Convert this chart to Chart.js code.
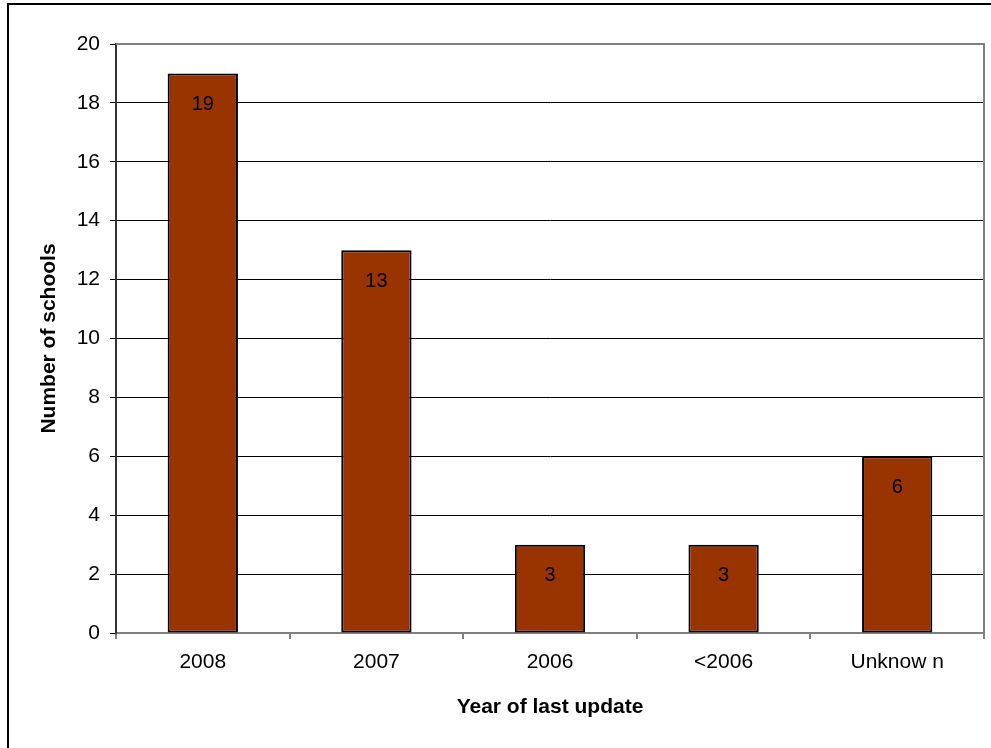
<!DOCTYPE html>
<html>
<head>
<meta charset="utf-8">
<script src="https://cdn.jsdelivr.net/npm/chart.js@4.4.0/dist/chart.umd.min.js"></script>
<style>
  html, body { margin: 0; padding: 0; background: #fff; }
  #wrap { position: relative; width: 991px; height: 748px; overflow: hidden; }
  #frame { position: absolute; left: 7px; top: 3px; width: 1200px; height: 1000px;
           border-left: 2px solid #000; border-top: 2px solid #000; pointer-events: none; }
  canvas { position: absolute; left: 0; top: 0; }
</style>
</head>
<body>
<div id="wrap">
  <canvas id="schools-chart" width="991" height="748"></canvas>
  <div id="frame"></div>
</div>
<script>
'use strict';

const categories = ['2008', '2007', '2006', '<2006', 'Unknow n'];
const schoolCounts = [19, 13, 3, 3, 6];
const yTicks = [0, 2, 4, 6, 8, 10, 12, 14, 16, 18, 20];

const FONT = "'Liberation Sans', Arial, sans-serif";

// value labels just inside the top of each bar, like Excel does
const barLabels = {
    id: 'barLabels',
    afterDatasetsDraw(chart) {
        const ctx = chart.ctx;
        const meta = chart.getDatasetMeta(0);
        ctx.save();
        ctx.fillStyle = '#000';
        ctx.font = '20px ' + FONT;
        ctx.textAlign = 'center';
        ctx.textBaseline = 'middle';
        meta.data.forEach((bar, i) => {
            ctx.fillText(String(schoolCounts[i]), bar.x, bar.y + 31);
        });
        ctx.restore();
    }
};

// grey border round the plot area
const plotBorder = {
    id: 'plotBorder',
    afterDraw(chart) {
        const {ctx, chartArea} = chart;
        ctx.save();
        ctx.strokeStyle = '#808080';
        ctx.lineWidth = 2;
        ctx.beginPath();
        ctx.moveTo(chartArea.left, chartArea.top);
        ctx.lineTo(chartArea.right, chartArea.top);
        ctx.lineTo(chartArea.right, chartArea.bottom);
        ctx.stroke();
        ctx.restore();
    }
};

const ctx = document.getElementById('schools-chart').getContext('2d');
const schoolsChart = new Chart(ctx, {
    type: 'bar',
    data: {
        labels: categories,
        datasets: [{
            data: schoolCounts,
            backgroundColor: '#993300',
            borderColor: '#000',
            borderWidth: 2,
            borderSkipped: false,
            barPercentage: 0.81,
            categoryPercentage: 0.5
        }]
    },
    options: {
        responsive: false,
        animation: false,
        devicePixelRatio: 1,
        layout: { padding: { top: 44, right: 7, left: 0, bottom: 0 } },
        plugins: {
            legend: { display: false },
            tooltip: { enabled: false }
        },
        scales: {
            x: {
                afterFit: s => { s.height = 115; },
                grid: {
                    offset: true,
                    drawOnChartArea: false,
                    drawTicks: true,
                    tickLength: 6,
                    color: '#808080',
                    lineWidth: 2
                },
                border: { display: true, color: '#808080', width: 2 },
                ticks: {
                    color: '#000',
                    font: { family: FONT, size: 21 },
                    padding: 11,
                    maxRotation: 0
                },
                title: {
                    display: true,
                    text: 'Year of last update',
                    color: '#000',
                    font: { family: FONT, size: 21, weight: 'bold' },
                    padding: { top: 0, bottom: 28 }
                }
            },
            y: {
                min: 0,
                max: 20,
                afterFit: s => { s.width = 116; },
                afterBuildTicks: s => { s.ticks = yTicks.map(v => ({ value: v })); },
                grid: {
                    color: '#000',
                    lineWidth: 1,
                    drawTicks: true,
                    tickLength: 6
                },
                border: { display: true, color: '#333', width: 2 },
                ticks: {
                    color: '#000',
                    font: { family: FONT, size: 21 },
                    padding: 10
                },
                title: {
                    display: true,
                    text: 'Number of schools',
                    color: '#000',
                    font: { family: FONT, size: 21, weight: 'bold' },
                    padding: { top: 37, bottom: 0 }
                }
            }
        }
    },
    plugins: [barLabels, plotBorder]
});
</script>
</body>
</html>
